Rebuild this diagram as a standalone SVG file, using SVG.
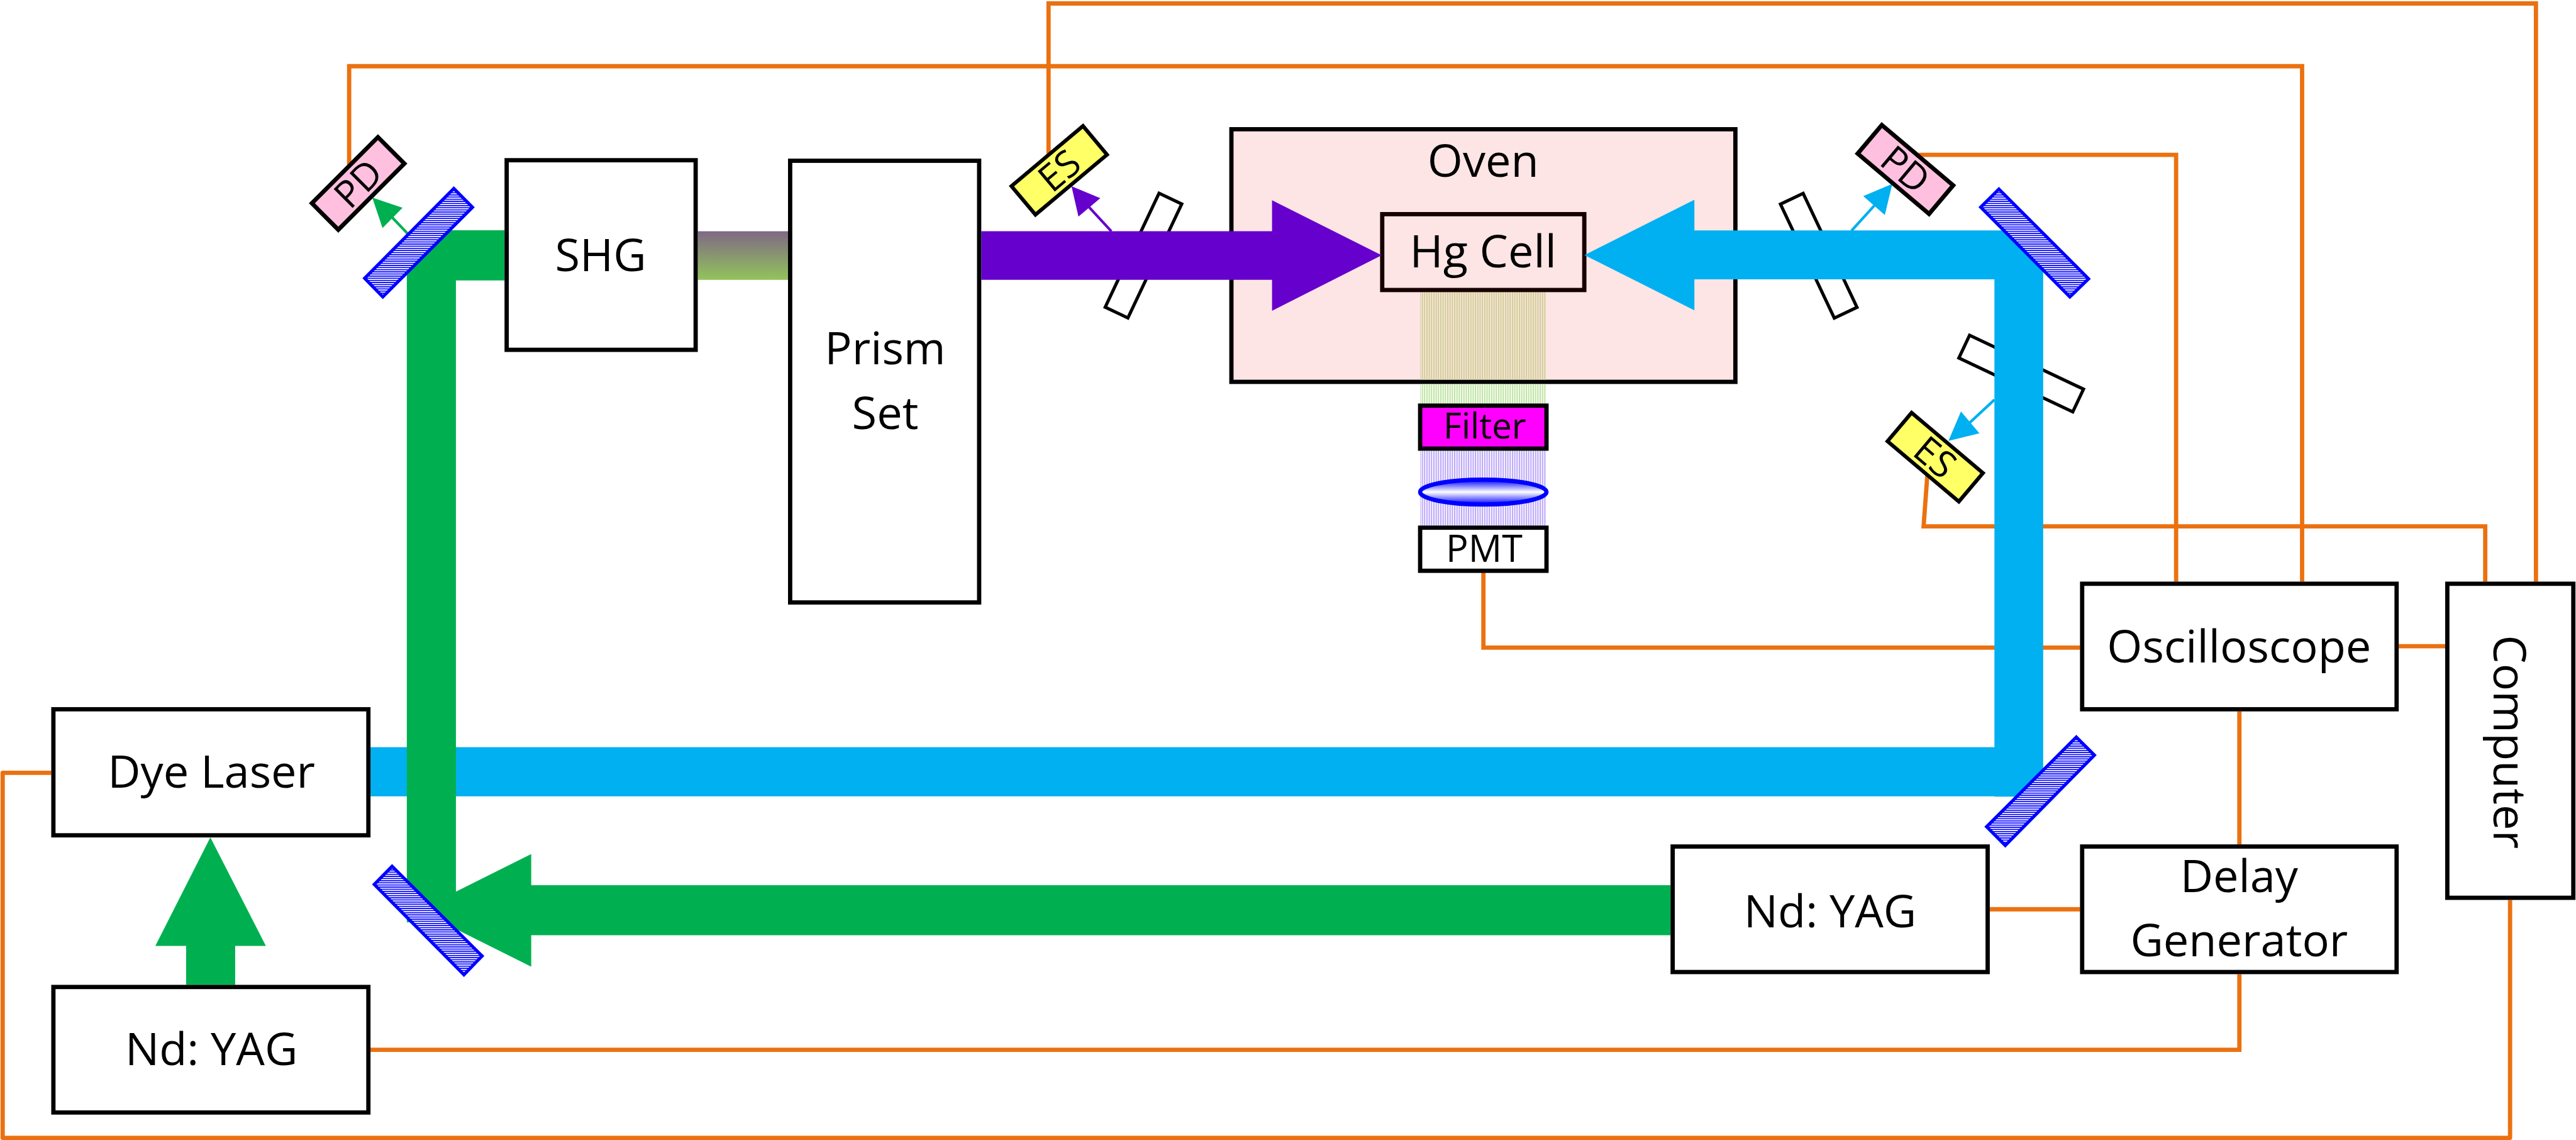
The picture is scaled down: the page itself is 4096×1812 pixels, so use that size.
<svg xmlns="http://www.w3.org/2000/svg" width="4096" height="1812" viewBox="0 0 4096 1812">
<style>
text{font-family:"Open Sans","Noto Sans","Liberation Sans",sans-serif;font-size:85px;fill:#000;text-anchor:middle}
.box{fill:#fff;stroke:#000;stroke-width:8}
.opt{fill:#fff;stroke:#000;stroke-width:6}
.pd{fill:#FFC0E0;stroke:#000;stroke-width:8}
.es{fill:#FFFF66;stroke:#000;stroke-width:7}
.wire{fill:none;stroke:#EB7110;stroke-width:8}
.mirror{fill:url(#hatch);stroke:#0000FF;stroke-width:6}
.green{fill:#00B050}.blue{fill:#00B0F0}.violet{fill:#6600CC}
.sg{stroke:#00B050;stroke-width:5}.sb{stroke:#00B0F0;stroke-width:5}.sv{stroke:#6600CC;stroke-width:5}
.small{font-size:70px}
</style>
<defs>
<pattern id="hatch" width="4" height="4" patternUnits="userSpaceOnUse"><rect width="4" height="4" fill="#fff"/><rect width="4" height="2" fill="#0000FF"/></pattern>
<pattern id="sgreen" width="4.33" height="4" patternUnits="userSpaceOnUse"><rect width="2.4" height="4" fill="#BDE3A0"/></pattern>
<pattern id="stan" width="4.33" height="4" patternUnits="userSpaceOnUse"><rect width="2.4" height="4" fill="#CFCE92"/></pattern>
<pattern id="spurple" width="4.33" height="4" patternUnits="userSpaceOnUse"><rect width="2.4" height="4" fill="#BBA6FA"/></pattern>
<linearGradient id="shgbeam" x1="0" y1="0" x2="0" y2="1"><stop offset="0" stop-color="#7F6885"/><stop offset="1" stop-color="#92C45A"/></linearGradient>
<linearGradient id="lensfill" x1="0" y1="0" x2="0" y2="1"><stop offset="0" stop-color="#0000FF"/><stop offset=".5" stop-color="#fff"/><stop offset="1" stop-color="#0000FF"/></linearGradient>
</defs>
<rect width="4096" height="1812" fill="#fff"/>
<g transform="scale(0.84891)">
<g id="signal-connectors">
<path class="wire" d="M654 320V124H4312V1089"/>
<path class="wire" d="M1964 290V6.5H4750V1089"/>
<path class="wire" d="M3590 290H4076V1089"/>
<path class="wire" d="M3610 890L3603 985.5H4655V1089"/>
<path class="wire" d="M2778.5 1072V1212.5H3896"/>
<path class="wire" d="M4493 1210H4580"/>
<path class="wire" d="M4194.5 1332V1581"/>
<path class="wire" d="M3727 1702.5H3896"/>
<path class="wire" d="M694 1965.5H4194.5V1824"/>
<path class="wire" d="M4701.5 1685V2130.5H5V1447H96" stroke-linejoin="round"/>
</g>
<g id="oven"><rect x="2306.5" y="242" width="944" height="473" fill="#FDE5E5" stroke="#000" stroke-width="8"/><text x="2778" y="331">Oven</text></g>
<g id="fluorescence">
<rect x="2660" y="547" width="236" height="164" fill="url(#stan)"/>
<rect x="2660" y="719" width="236" height="37" fill="url(#sgreen)"/>
<rect x="2660" y="844" width="236" height="140" fill="url(#spurple)"/>
</g>
<g id="window-1"><rect class="opt" x="2023.8" y="455" width="236" height="47" transform="rotate(-64.7 2141.8 478.5)"/></g>
<g id="window-2"><rect class="opt" x="3288.6" y="455.3" width="236" height="47" transform="rotate(64.7 3406.6 478.8)"/></g>
<g id="window-3"><rect class="opt" x="3667.8" y="676" width="236" height="47" transform="rotate(25.3 3785.8 699.5)"/></g>
<g id="hg-cell"><rect x="2589" y="401" width="378.5" height="142" fill="#FDE5E5" stroke="#170000" stroke-width="8"/><text x="2778" y="501" fill="#170000">Hg Cell</text></g>
<g id="beams">
<rect class="blue" x="694" y="1399" width="3080" height="92"/>
<polygon class="blue" points="2967.7,477.6 3173.7,374 3173.7,431.5 3780,431.5 3827,490 3827,1440 3790,1491.5 3735.7,1491.5 3735.7,523 3173.7,523 3173.7,581"/>
<polygon class="green" points="790,431 945,431 945,525 854,525 854,1727 762,1727 762,490"/>
<polygon class="green" points="3129,1657.5 995,1657.5 995,1599 784,1704.5 995,1810 995,1751 3129,1751"/>
<polygon class="green" points="394,1568 498,1771 440.5,1771 440.5,1844 348.6,1844 348.6,1771 291,1771"/>
<rect x="1307" y="433" width="169" height="91" fill="url(#shgbeam)"/>
<polygon class="violet" points="1838,433 2382.6,433 2382.6,375 2588,478 2382.6,582 2382.6,524 1838,524"/>
<path class="sg" d="M763.6 437.5L735 407.6"/><polygon class="green" points="697.3,370 754,389 716.5,427"/>
<path class="sv" d="M2081.6 433L2040 388"/><polygon class="violet" points="2007,348.7 2061,371 2020,405.5"/>
<path class="sb" d="M3468 432L3510.6 385"/><polygon class="blue" points="3544.4,344.4 3490,367.3 3530.4,402.6"/>
<path class="sb" d="M3735.7 748.5L3690 790.8"/><polygon class="blue" points="3649.6,825.5 3673,770.4 3707.6,811.2"/>
</g>
<g id="mirror-1"><polygon class="mirror" points="850,353 885,388 717,556 683,521"/></g>
<g id="mirror-2"><polygon class="mirror" points="3744,354 3912,522 3877,556 3710,388"/></g>
<g id="mirror-3"><polygon class="mirror" points="3889,1380 3923,1414 3756,1583 3721,1548"/></g>
<g id="mirror-4"><polygon class="mirror" points="734.5,1622 903,1790 869,1825 701,1656"/></g>
<g id="pd-1"><rect class="pd" x="583.3" y="308.5" width="175" height="70" transform="rotate(-45 670.8 343.5)"/><text class="small" x="670.8" y="368.5" transform="rotate(-45 670.8 343.5)">PD</text></g>
<g id="pd-2"><rect class="pd" x="3481.5" y="282.3" width="175" height="70" transform="rotate(40.2 3569 317.3)"/><text class="small" x="3569" y="342" transform="rotate(40.2 3569 317.3)">PD</text></g>
<g id="es-1"><rect class="es" x="1896.5" y="284" width="175" height="70" transform="rotate(-40 1984 319)"/><text class="small" x="1984" y="344" transform="rotate(-40 1984 319)">ES</text></g>
<g id="es-2"><rect class="es" x="3537.3" y="821" width="175" height="70" transform="rotate(40.2 3624.8 856)"/><text class="small" x="3624.8" y="881" transform="rotate(40.2 3624.8 856)">ES</text></g>
<g id="shg"><rect class="box" x="949" y="300" width="354" height="355"/><text x="1125" y="507.5">SHG</text></g>
<g id="prism-set"><rect class="box" x="1480" y="301" width="354" height="827"/><text x="1658" y="682.5">Prism</text><text x="1658" y="803">Set</text></g>
<g id="filter"><rect x="2660" y="759.5" width="236.7" height="80.5" fill="#FF00FF" stroke="#000" stroke-width="8"/><text x="2781" y="821.5" style="font-size:66px">Filter</text></g>
<g id="lens"><ellipse cx="2778.3" cy="921.3" rx="118.3" ry="23.3" fill="url(#lensfill)" stroke="#0000FF" stroke-width="8"/></g>
<g id="pmt"><rect class="box" x="2660" y="988" width="236.7" height="80.7"/><text x="2780" y="1052" style="font-size:70px">PMT</text></g>
<g id="oscilloscope"><rect class="box" x="3900" y="1093" width="589" height="235"/><text x="4194" y="1241">Oscilloscope</text></g>
<g id="computer"><rect class="box" x="4584" y="1093" width="236" height="588"/><text x="4701" y="1389" transform="rotate(90 4701 1389) translate(0 30)">Computer</text></g>
<g id="delay-generator"><rect class="box" x="3900" y="1585" width="589" height="235"/><text x="4194" y="1670">Delay</text><text x="4194" y="1790">Generator</text></g>
<g id="ndyag-2"><rect class="box" x="3133" y="1585" width="590" height="235"/><text x="3428" y="1736">Nd: YAG</text></g>
<g id="dye-laser"><rect class="box" x="100" y="1328" width="590" height="236"/><text x="396" y="1475">Dye Laser</text></g>
<g id="ndyag-1"><rect class="box" x="100" y="1848" width="590" height="235"/><text x="396" y="1994">Nd: YAG</text></g>
</g>
</svg>
